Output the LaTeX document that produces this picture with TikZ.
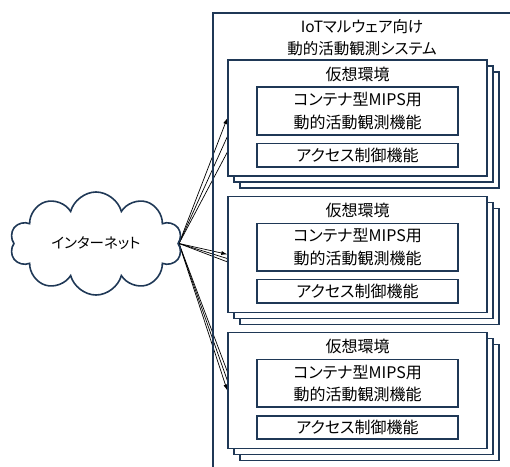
\documentclass[tikz,border=0pt]{standalone}
\usepackage{fontspec}
\setmainfont[RawFeature=+palt]{Noto Sans CJK JP}
\usetikzlibrary{shapes.symbols,arrows.meta,backgrounds,positioning}

\definecolor{navy}{RGB}{31,56,86}

\tikzset{
  frame/.style={draw=navy, line width=1.6pt, fill=white},
  envbox/.style={frame, minimum width=259pt, minimum height=116pt, anchor=north west},
  funcbox/.style={frame, minimum width=201pt, align=center, inner sep=0pt},
  link/.style={-{Latex[length=6pt,width=4pt]}, line width=0.7pt},
}

\begin{document}
\begin{tikzpicture}[x=1pt, y=-1pt, font=\fontsize{16}{22.5}\selectfont]
\clip (0,0) rectangle (510,466);
\useasboundingbox (0,0) rectangle (510,466);

% system frame, runs off the page at right and bottom
\node[frame, fill=none, anchor=north west, minimum width=300pt, minimum height=480pt] (system) at (212,12) {};
\node[align=center, font=\fontsize{15.5}{22}\selectfont] (title) at (362,38) {IoTマルウェア向け\\動的活動観測システム};

% internet cloud
\node[cloud, cloud puffs=10, draw=navy, line width=1.6pt, aspect=1.7,
      minimum width=172pt, minimum height=103pt, inner sep=0pt,
      font=\fontsize{14.5}{18}\selectfont] (net) at (96,243.5) {インターネット};

% three virtual environments, each a stack of three sheets
\foreach \i/\ytop in {1/59.3, 2/195.5, 3/331.7} {
  \node[envbox] (envc\i) at (239,\ytop+12) {};
  \node[envbox] (envb\i) at (233,\ytop+6) {};
  \node[envbox] (env\i) at (227.3,\ytop) {};
  \node (virt\i) at ([yshift=-14.7pt]env\i.north) {仮想環境};
  \node[funcbox, minimum height=47.7pt, below=27pt of env\i.north] (mips\i) {コンテナ型MIPS用\\動的活動観測機能};
  \node[funcbox, minimum height=23.4pt, below=7pt of mips\i] (acl\i) {アクセス制御機能};
  % links from the cloud to every sheet
  \begin{scope}[on background layer]
    \draw[link] (net.east) -- (envc\i.west);
    \draw[link] (net.east) -- (envb\i.west);
    \draw[link] (net.east) -- (env\i.west);
  \end{scope}
}
\end{tikzpicture}
\end{document}
